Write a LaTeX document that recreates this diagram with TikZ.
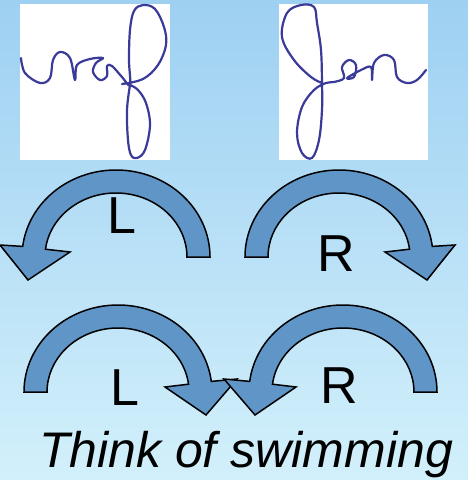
\documentclass[tikz,border=0pt]{standalone}
\usepackage{fontspec}
\setmainfont{Liberation Sans}
\definecolor{bgtop}{RGB}{158,208,242}
\definecolor{bgbot}{RGB}{210,240,251}
\definecolor{arrowfill}{RGB}{95,149,199}
\definecolor{ink}{RGB}{58,58,152}
\tikzset{
  turnarrow/.style={fill=arrowfill, draw=black, line width=1.5pt, line join=miter},
  signature/.style={draw=ink, line width=2.2pt, line cap=round, line join=round},
  sigbox/.style={fill=white, draw=none},
  sidelabel/.style={font=\fontsize{52}{60}\selectfont, anchor=base, inner sep=0pt},
}
\begin{document}
\begin{tikzpicture}[x=1pt,y=-1pt]
\useasboundingbox (0,0) rectangle (468,480);
% background
\shade[top color=bgtop, bottom color=bgbot] (0,0) rectangle (468,480);

% signature cards
\fill[sigbox] (20,4) rectangle (170,160);
\fill[sigbox] (279,4) rectangle (428,160);

% left signature
\draw[signature] plot[smooth, tension=0.6] coordinates {
  (21,58) (25,73) (40,83) (50,78) (53,60) (60,52) (70,58) (75,80)
  (77,65) (90,59) (103,58) (96,63) (93,72) (100,80) (107,76) (107,66)
  (112,66) (122,77) (130,85) (129,60) (130,30) (134,11) (143,5) (155,9)
  (164,27) (166,45) (158,65) (143,79) (122,84)};
\draw[signature] plot[smooth, tension=0.6] coordinates {
  (130,85) (127,110) (128,140) (131,155) (137,158) (145,150) (150,125)
  (146,103) (138,90) (130,85)};

% right signature
\draw[signature] plot[smooth, tension=0.6] coordinates {
  (322,83) (311,77) (294,60) (282,37) (287,13) (301,5) (314,7) (317,23)
  (321,50) (322,83) (322,110) (319,140) (312,158) (302,153) (297,133)
  (302,107) (314,90) (326,83) (334,82) (344,78) (342,67) (349,60)
  (356,65) (354,77) (347,78) (361,70) (371,67) (372,80) (374,63)
  (384,55) (394,60) (397,77) (407,83) (417,80) (426,70)};

% turning arrows
\draw[turnarrow] (210,257) arc[start angle=0, end angle=-173, x radius=94, y radius=87]
  -- (0,245) -- (28,280) -- (70,252) -- (45.5,249.2)
  arc[start angle=-173, end angle=0, x radius=71, y radius=64] -- cycle;

\draw[turnarrow] (245,257) arc[start angle=180, end angle=353, x radius=94, y radius=87]
  -- (455,245) -- (427,280) -- (385,252) -- (409.5,249.2)
  arc[start angle=353, end angle=180, x radius=71, y radius=64] -- cycle;

\draw[turnarrow] (24,392) arc[start angle=180, end angle=353, x radius=94, y radius=87]
  -- (237,379) -- (206,415) -- (165,387) -- (188.5,384.2)
  arc[start angle=353, end angle=180, x radius=71, y radius=64] -- cycle;

\draw[turnarrow] (437,392) arc[start angle=0, end angle=-173, x radius=94, y radius=87]
  -- (224,379) -- (255,415) -- (296,387) -- (272.5,384.2)
  arc[start angle=-173, end angle=0, x radius=71, y radius=64] -- cycle;

% labels
\node[sidelabel] (l1) at (122,233) {L};
\node[sidelabel] (r1) at (336,271) {R};
\node[sidelabel] (l2) at (125,405) {L};
\node[sidelabel] (r2) at (339,403) {R};

\node[anchor=base, inner sep=0pt, font=\fontsize{50}{58}\selectfont\itshape] (cap) at (246,467) {Think of swimming};
\end{tikzpicture}
\end{document}
